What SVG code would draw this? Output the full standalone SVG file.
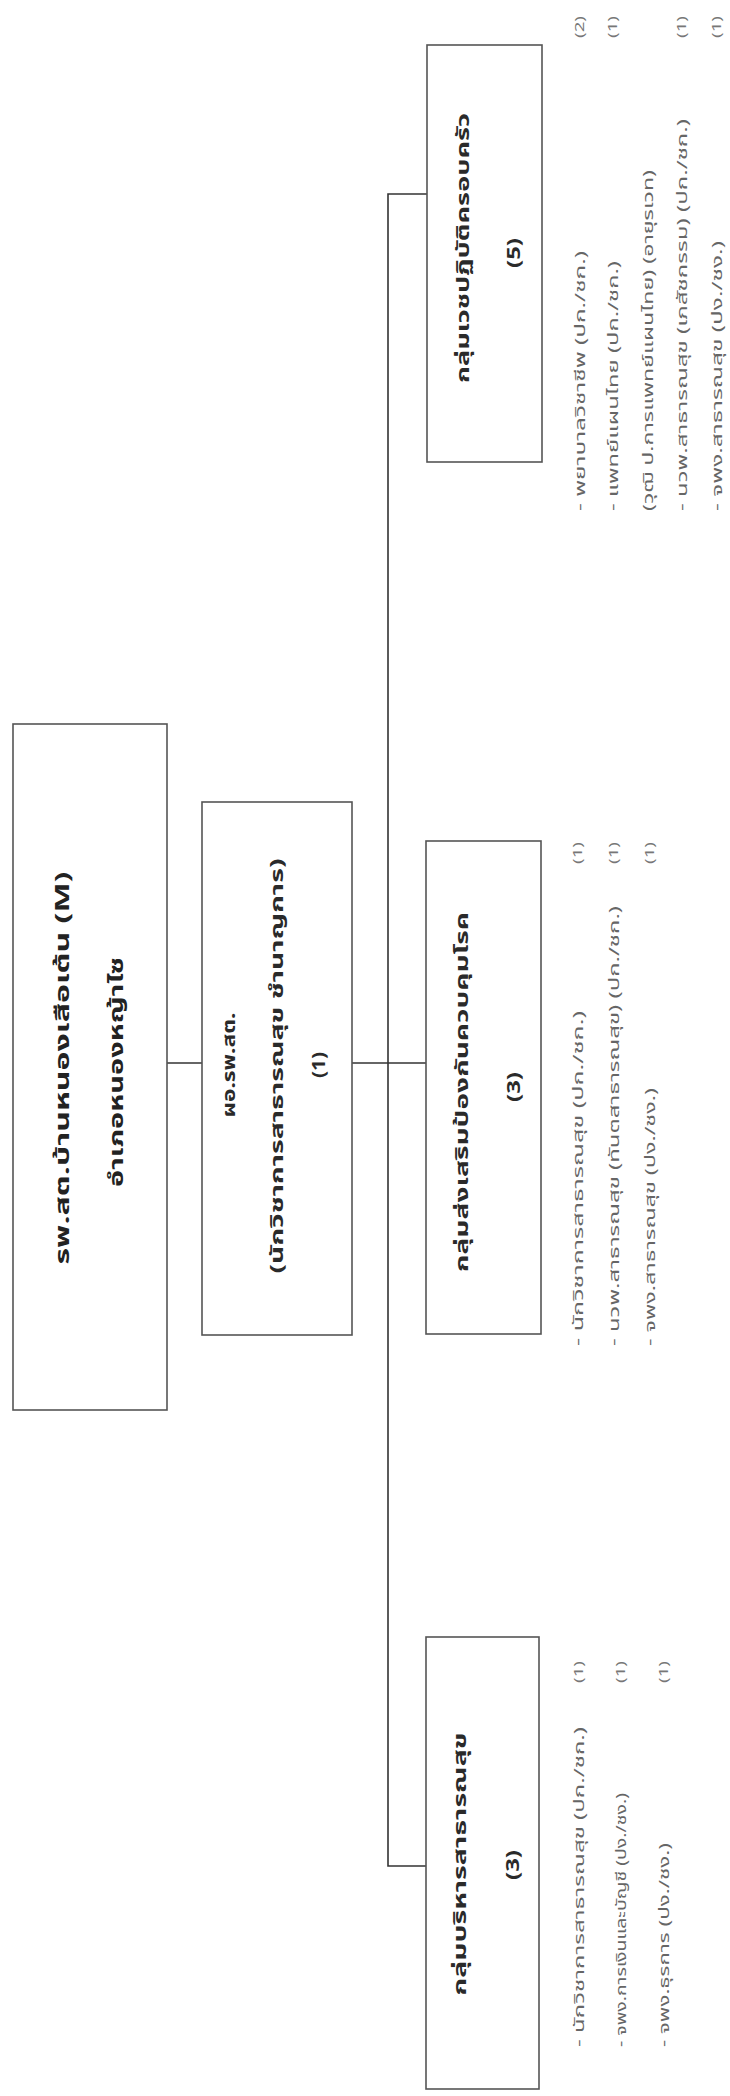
<svg xmlns="http://www.w3.org/2000/svg" width="730" height="2096" viewBox="0 0 730 2096">
<style>
text{font-family:"Noto Sans Thai","Noto Sans Thai UI","Loma","Garuda","Tlwg Typo","Noto Sans","DejaVu Sans",sans-serif;dominant-baseline:central}
.box{fill:#fff;stroke:#555;stroke-width:1.6}
.conn{fill:none;stroke:#333;stroke-width:1.6}
.t1{font-size:20px;font-weight:bold;fill:#222;text-anchor:middle}
.t2{font-size:17px;font-weight:bold;fill:#2a2a2a;text-anchor:middle}
.t3{font-size:18px;font-weight:bold;fill:#2a2a2a;text-anchor:middle}
.li{font-size:14px;fill:#666;text-anchor:start}
.cnt{font-size:13px;fill:#777;text-anchor:middle}
</style>
<rect width="730" height="2096" fill="#fff"/>
<g id="connectors">
<line class="conn" x1="167" y1="1063" x2="202" y2="1063"/>
<line class="conn" x1="352" y1="1063" x2="426" y2="1063"/>
<polyline class="conn" points="427,194 388,194 388,1866 426,1866"/>
</g>
<g id="node-top">
<rect class="box" x="13" y="724" width="154" height="686"/>
<text class="t1" transform="translate(63,1068) rotate(-90)" textLength="393" lengthAdjust="spacingAndGlyphs">รพ.สต.บ้านหนองเสือเต้น (M)</text>
<text class="t1" transform="translate(117,1072) rotate(-90)" textLength="230" lengthAdjust="spacingAndGlyphs">อำเภอหนองหญ้าไซ</text>
</g>
<g id="node-director">
<rect class="box" x="202" y="802" width="150" height="533"/>
<text class="t2" transform="translate(230,1065) rotate(-90)" textLength="105" lengthAdjust="spacingAndGlyphs">ผอ.รพ.สต.</text>
<text class="t2" transform="translate(278,1066) rotate(-90)" textLength="415" lengthAdjust="spacingAndGlyphs">(นักวิชาการสาธารณสุข ชำนาญการ)</text>
<text class="t2" transform="translate(320,1065) rotate(-90)" textLength="26" lengthAdjust="spacingAndGlyphs">(1)</text>
</g>
<g id="node-family">
<rect class="box" x="427" y="45" width="115" height="417"/>
<text class="t3" transform="translate(463,248) rotate(-90)" textLength="270" lengthAdjust="spacingAndGlyphs">กลุ่มเวชปฏิบัติครอบครัว</text>
<text class="t3" transform="translate(514,253) rotate(-90)" textLength="30" lengthAdjust="spacingAndGlyphs">(5)</text>
<text class="li" transform="translate(580,511) rotate(-90)" textLength="260" lengthAdjust="spacingAndGlyphs">- พยาบาลวิชาชีพ (ปก./ชก.)</text>
<text class="li" transform="translate(613,511) rotate(-90)" textLength="250" lengthAdjust="spacingAndGlyphs">- แพทย์แผนไทย (ปก./ชก.)</text>
<text class="li" transform="translate(648,511) rotate(-90)" textLength="341" lengthAdjust="spacingAndGlyphs">(วุฒิ ป.การแพทย์แผนไทย) (อายุรเวท)</text>
<text class="li" transform="translate(682,511) rotate(-90)" textLength="392" lengthAdjust="spacingAndGlyphs">- นวพ.สาธารณสุข (เภสัชกรรม) (ปก./ชก.)</text>
<text class="li" transform="translate(717,511) rotate(-90)" textLength="270" lengthAdjust="spacingAndGlyphs">- จพง.สาธารณสุข (ปง./ชง.)</text>
<text class="cnt" transform="translate(580,27) rotate(-90)" textLength="22" lengthAdjust="spacingAndGlyphs">(2)</text>
<text class="cnt" transform="translate(613,27) rotate(-90)" textLength="22" lengthAdjust="spacingAndGlyphs">(1)</text>
<text class="cnt" transform="translate(682,27) rotate(-90)" textLength="22" lengthAdjust="spacingAndGlyphs">(1)</text>
<text class="cnt" transform="translate(717,27) rotate(-90)" textLength="22" lengthAdjust="spacingAndGlyphs">(1)</text>
</g>
<g id="node-promote">
<rect class="box" x="426" y="841" width="115" height="493"/>
<text class="t3" transform="translate(462,1092) rotate(-90)" textLength="360" lengthAdjust="spacingAndGlyphs">กลุ่มส่งเสริมป้องกันควบคุมโรค</text>
<text class="t3" transform="translate(514,1087) rotate(-90)" textLength="30" lengthAdjust="spacingAndGlyphs">(3)</text>
<text class="li" transform="translate(578,1346) rotate(-90)" textLength="335" lengthAdjust="spacingAndGlyphs">- นักวิชาการสาธารณสุข (ปก./ชก.)</text>
<text class="li" transform="translate(614,1346) rotate(-90)" textLength="440" lengthAdjust="spacingAndGlyphs">- นวพ.สาธารณสุข (ทันตสาธารณสุข) (ปก./ชก.)</text>
<text class="li" transform="translate(650,1346) rotate(-90)" textLength="258" lengthAdjust="spacingAndGlyphs">- จพง.สาธารณสุข (ปง./ชง.)</text>
<text class="cnt" transform="translate(578,853) rotate(-90)" textLength="22" lengthAdjust="spacingAndGlyphs">(1)</text>
<text class="cnt" transform="translate(614,853) rotate(-90)" textLength="22" lengthAdjust="spacingAndGlyphs">(1)</text>
<text class="cnt" transform="translate(650,853) rotate(-90)" textLength="22" lengthAdjust="spacingAndGlyphs">(1)</text>
</g>
<g id="node-admin">
<rect class="box" x="426" y="1637" width="113" height="452"/>
<text class="t3" transform="translate(460,1864) rotate(-90)" textLength="263" lengthAdjust="spacingAndGlyphs">กลุ่มบริหารสาธารณสุข</text>
<text class="t3" transform="translate(513,1865) rotate(-90)" textLength="30" lengthAdjust="spacingAndGlyphs">(3)</text>
<text class="li" transform="translate(579,2047) rotate(-90)" textLength="320" lengthAdjust="spacingAndGlyphs">- นักวิชาการสาธารณสุข (ปก./ชก.)</text>
<text class="li" transform="translate(621,2047) rotate(-90)" textLength="254" lengthAdjust="spacingAndGlyphs">- จพง.การเงินและบัญชี (ปง./ชง.)</text>
<text class="li" transform="translate(664,2047) rotate(-90)" textLength="204" lengthAdjust="spacingAndGlyphs">- จพง.ธุรการ (ปง./ชง.)</text>
<text class="cnt" transform="translate(579,1672) rotate(-90)" textLength="22" lengthAdjust="spacingAndGlyphs">(1)</text>
<text class="cnt" transform="translate(621,1672) rotate(-90)" textLength="22" lengthAdjust="spacingAndGlyphs">(1)</text>
<text class="cnt" transform="translate(664,1672) rotate(-90)" textLength="22" lengthAdjust="spacingAndGlyphs">(1)</text>
</g>
</svg>
